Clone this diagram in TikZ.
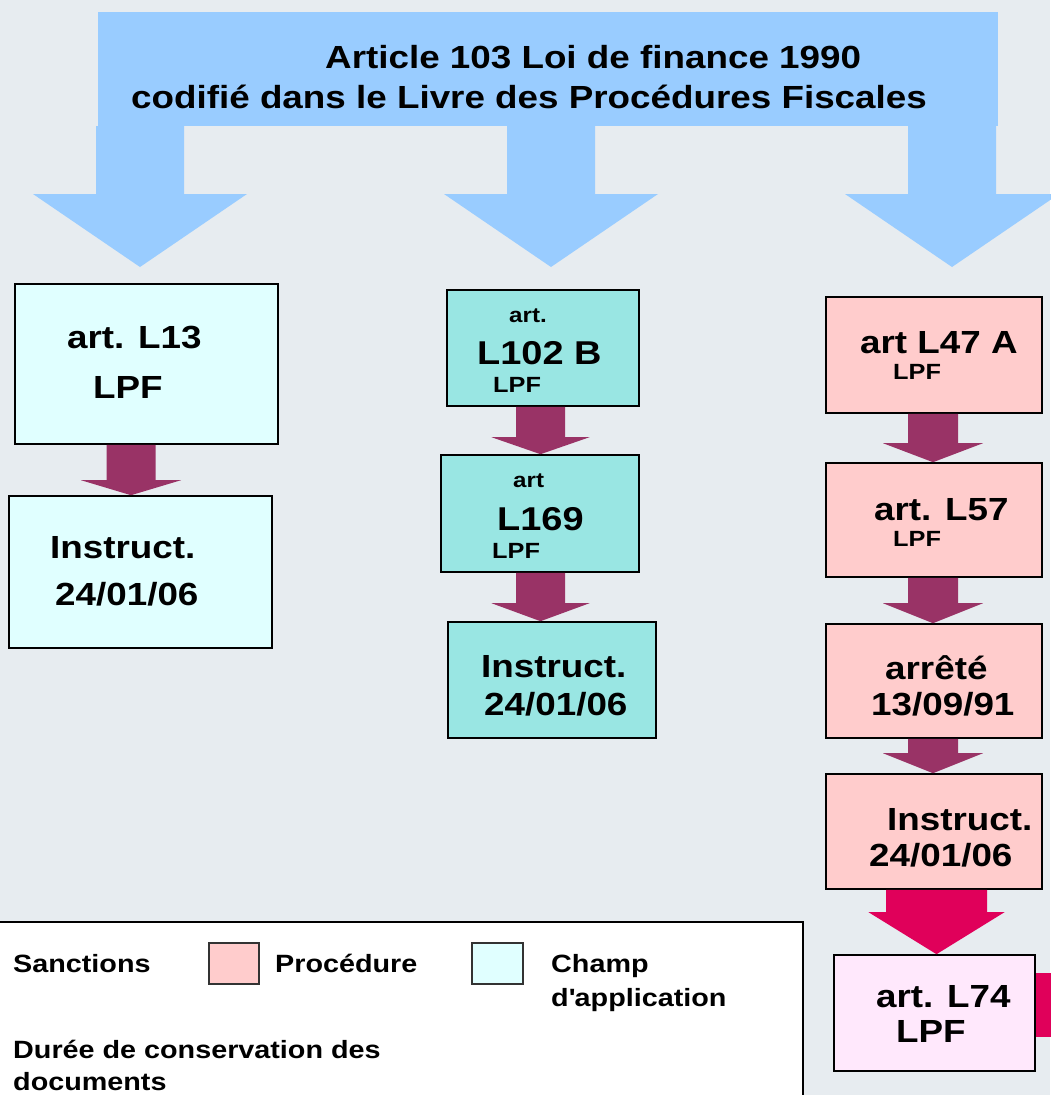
\documentclass[tikz,border=0pt]{standalone}
\usepackage{fontspec}
\setmainfont[FakeStretch=1.15]{Liberation Sans}
\usetikzlibrary{calc}
\definecolor{fond}{RGB}{231,236,240}
\definecolor{bleu}{RGB}{153,204,255}
\definecolor{champ}{RGB}{224,255,255}
\definecolor{turq}{RGB}{153,230,227}
\definecolor{proc}{RGB}{255,204,204}
\definecolor{rose}{RGB}{255,232,252}
\definecolor{prune}{RGB}{153,51,102}
\definecolor{magenta}{RGB}{224,0,90}

\tikzset{
  boite/.style={draw=black, line width=1.6pt, inner sep=0pt, rectangle},
  txt/.style={anchor=base west, inner sep=0pt, font=\bfseries},
  carre/.style={draw=black!80, line width=1.1pt, inner sep=0pt, rectangle}
}

\begin{document}
\begin{tikzpicture}[x=1pt, y=-1pt]

		\useasboundingbox[fill=fond] (0,0) rectangle (1050,1095);

		\newcommand{\mkboite}[6]{%
			\node[#6, minimum width={#4-#2}, minimum height={#5-#3}] (#1) at ({(#2+#4)/2},{(#3+#5)/2}) {};
		}
		\newcommand{\mktexte}[5]{%
			\node[txt, font=\bfseries\fontsize{#4}{#4}\selectfont] (#1) at (#2,#3) {#5};
		}
		% axe, depart, arrivee, demi-tige, demi-tete, longueur tete, couleur
		\newcommand{\mkfleche}[7]{%
			\fill[#7] let \p1=(#2), \p2=(#3) in
				(#1pt-#4pt,\y1) -- (#1pt+#4pt,\y1) -- (#1pt+#4pt,\y2+#6pt) -- (#1pt+#5pt,\y2+#6pt)
				-- (#1pt,\y2) -- (#1pt-#5pt,\y2+#6pt) -- (#1pt-#4pt,\y2+#6pt) -- cycle;
		}

		%bandeau du haut
		\node[fill=bleu, minimum width=900, minimum height=114, inner sep=0pt] (titre) at (548,69) {};
		\coordinate (b1) at (140,267);
		\coordinate (b2) at (551,267);
		\coordinate (b3) at (952,267);
		\mkfleche{140}{titre.south}{b1}{44}{107}{73}{bleu}
		\mkfleche{551}{titre.south}{b2}{44}{107}{73}{bleu}
		\mkfleche{952}{titre.south}{b3}{44}{107}{73}{bleu}
		\mktexte{titre1}{325}{68}{32}{Article 103 Loi de finance 1990}
		\mktexte{titre2}{131}{108}{32}{codifié dans le Livre des Procédures Fiscales}

		%colonne de gauche
		\mkboite{l13}{15}{284}{278}{444}{boite, fill=champ}
		\mkboite{ins1}{9}{496}{272}{648}{boite, fill=champ}
		\mkfleche{131}{l13.south}{ins1.north}{24.5}{50}{15}{prune}

		%colonne du milieu
		\mkboite{l102}{447}{290}{639}{406}{boite, fill=turq}
		\mkboite{l169}{441}{455}{639}{572}{boite, fill=turq}
		\mkboite{ins2}{448}{622}{656}{738}{boite, fill=turq}
		\mkfleche{540.5}{l102.south}{l169.north}{24.5}{49}{17}{prune}
		\mkfleche{540.5}{l169.south}{ins2.north}{24.5}{49}{18}{prune}

		%colonne de droite
		\mkboite{l47}{826}{297}{1042}{413}{boite, fill=proc}
		\mkboite{l57}{826}{463}{1042}{577}{boite, fill=proc}
		\mkboite{arr}{826}{624}{1042}{738}{boite, fill=proc}
		\mkboite{ins3}{826}{774}{1042}{889}{boite, fill=proc}
		\mkboite{l74}{834}{955}{1035}{1071}{boite, fill=rose}
		\mkfleche{933}{l47.south}{l57.north}{25}{50}{19}{prune}
		\mkfleche{933}{l57.south}{arr.north}{25}{50}{20}{prune}
		\mkfleche{933}{arr.south}{ins3.north}{25}{50}{20}{prune}
		\mkfleche{936.5}{ins3.south}{l74.north}{50.5}{68}{42}{magenta}
		\fill[magenta] (l74.east |- 0,973) rectangle (1052,1037);

		%textes des boites
		\mktexte{t1}{67}{348}{32}{art. L13}
		\mktexte{t2}{93}{398}{32}{LPF}
		\mktexte{t3}{50}{558}{32}{Instruct.}
		\mktexte{t4}{55}{605}{32}{24/01/06}

		\mktexte{t5}{509}{322}{21}{art.}
		\mktexte{t6}{477}{364}{33}{L102 B}
		\mktexte{t7}{493}{392}{22}{LPF}
		\mktexte{t8}{513}{487}{21}{art}
		\mktexte{t9}{497}{530}{33}{L169}
		\mktexte{t10}{492}{558}{22}{LPF}
		\mktexte{t11}{481}{677}{32}{Instruct.}
		\mktexte{t12}{484}{715}{32}{24/01/06}

		\mktexte{t13}{860}{353}{32}{art L47 A}
		\mktexte{t14}{893}{379}{22}{LPF}
		\mktexte{t15}{874}{520}{32}{art. L57}
		\mktexte{t16}{893}{546}{22}{LPF}
		\mktexte{t17}{885}{679}{32}{arrêté}
		\mktexte{t18}{871}{715}{32}{13/09/91}
		\mktexte{t19}{887}{830}{32}{Instruct.}
		\mktexte{t20}{869}{866}{32}{24/01/06}
		\mktexte{t21}{876}{1007}{32}{art. L74}
		\mktexte{t22}{896}{1042}{32}{LPF}

		%legende
		\draw[line width=1.6pt, fill=white] (-2,922) rectangle (803,1100);
		\mkboite{sw1}{209}{943}{259}{984}{carre, fill=proc}
		\mkboite{sw2}{472}{943}{523}{984}{carre, fill=champ}
		\mktexte{lg1}{13}{972}{25}{Sanctions}
		\mktexte{lg2}{275}{972}{25}{Procédure}
		\mktexte{lg3}{551}{972}{25}{Champ}
		\mktexte{lg4}{551}{1006}{25}{d\textquotesingle application}
		\mktexte{lg5}{13}{1058}{25}{Durée de conservation des}
		\mktexte{lg6}{13}{1090}{25}{documents}

\end{tikzpicture}
\end{document}
